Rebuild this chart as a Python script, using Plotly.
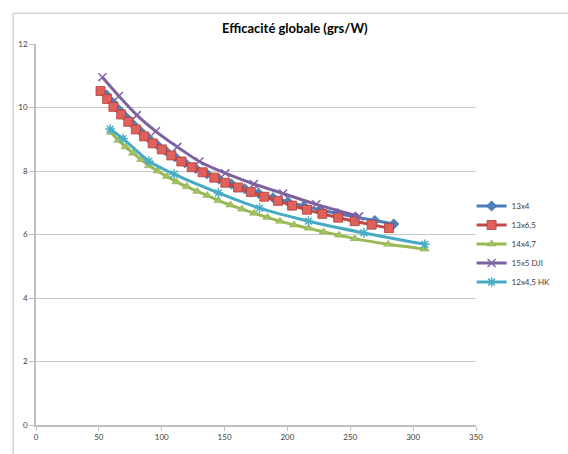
import plotly.graph_objects as go

# Puissance (W) et efficacité (grs/W) par hélice
x_13x4 = [56.0, 61.0, 66.0, 71.5, 77.0, 83.0, 89.5, 96.0, 103.0, 110.5, 118.5, 127.0, 136.0,
          145.5, 155.5, 166.0, 177.0, 188.5, 200.5, 213.0, 226.0, 240.0, 254.0, 269.5, 284.6]
y_13x4 = [10.40, 10.16, 9.93, 9.70, 9.48, 9.26, 9.04, 8.84, 8.64, 8.45, 8.26, 8.08, 7.91,
          7.75, 7.59, 7.44, 7.30, 7.16, 7.03, 6.90, 6.78, 6.66, 6.55, 6.44, 6.33]

x_13x65 = [51.3, 56.6, 61.6, 67.7, 73.4, 79.4, 86.0, 92.8, 100.1, 107.6, 115.6, 123.9, 132.5,
           141.8, 150.6, 160.7, 170.9, 181.6, 192.5, 203.7, 215.5, 227.8, 240.4, 253.5, 267.0, 280.8]
y_13x65 = [10.52, 10.27, 10.02, 9.78, 9.55, 9.31, 9.09, 8.87, 8.68, 8.49, 8.30, 8.12, 7.96,
           7.79, 7.63, 7.48, 7.34, 7.19, 7.06, 6.91, 6.78, 6.65, 6.53, 6.42, 6.31, 6.20]

x_14x47 = [59.6, 65.4, 71.3, 77.2, 83.5, 89.8, 96.6, 104.1, 111.6, 119.9, 128.2, 136.3, 145.1,
           154.6, 163.9, 173.5, 184.1, 194.1, 205.2, 217.0, 228.8, 241.2, 253.5, 280.1, 309.3]
y_14x47 = [9.22, 8.97, 8.76, 8.56, 8.36, 8.17, 8.00, 7.83, 7.66, 7.51, 7.36, 7.23, 7.07,
           6.93, 6.80, 6.67, 6.54, 6.42, 6.30, 6.20, 6.08, 5.98, 5.87, 5.69, 5.54]

x_15x5 = [52.8, 65.9, 80.2, 95.3, 112.4, 130.0, 150.6, 173.3, 196.6, 223.0, 257.0]
y_15x5 = [10.95, 10.36, 9.76, 9.25, 8.76, 8.30, 7.93, 7.59, 7.29, 6.95, 6.57]

x_12x45 = [59.0, 69.2, 89.8, 109.9, 145.1, 177.8, 216.7, 260.8, 309.3]
y_12x45 = [9.32, 9.02, 8.31, 7.90, 7.31, 6.83, 6.42, 6.05, 5.69]

noms = ["13x4", "13x6,5", "14x4,7", "15x5 DJI", "12x4,5 HK"]

fig = go.Figure()

series = [
    (noms[0], x_13x4, y_13x4, "#4A7EBB", dict(symbol="diamond", size=8, color="#4F81BD",
                                                  line=dict(color="#3F6EA8", width=0.5))),
    (noms[1], x_13x65, y_13x65, "#BE4B48", dict(symbol="square", size=9, color="#E0605C",
                                                    line=dict(color="#B03F3C", width=0.8))),
    (noms[2], x_14x47, y_14x47, "#98B954", dict(symbol="triangle-up", size=8, color="#A2C261",
                                                    line=dict(color="#8BAA4B", width=0.5))),
    (noms[3], x_15x5, y_15x5, "#7D60A0", dict(symbol="x-thin-open", size=8, color="#8064A2",
                                                  line=dict(color="#8064A2", width=1.5))),
    (noms[4], x_12x45, y_12x45, "#46AAC5", dict(symbol="asterisk-open", size=8, color="#4BACC6",
                                                    line=dict(color="#4BACC6", width=1.5))),
]

for nom, xs, ys, couleur, marqueur in series:
    fig.add_trace(go.Scatter(
        x=xs, y=ys, name=nom, mode="lines+markers",
        line=dict(color=couleur, width=3, shape="spline", smoothing=0.6),
        marker=marqueur,
    ))

# Cadre extérieur du graphique
fig.add_shape(type="rect", xref="paper", yref="paper",
              x0=-0.052, x1=1.3, y0=-0.2, y1=1.081,
              line=dict(color="#BFBFBF", width=1), layer="below")

fig.update_layout(
    width=568, height=454,
    margin=dict(l=36, r=68, t=44, b=17),
    paper_bgcolor="white", plot_bgcolor="white",
    font=dict(family="Lato, Open Sans, sans-serif", size=8, color="#404040"),
    title=dict(text="<b>Efficacité globale (grs/W)</b>", x=0.519, xanchor="center",
               y=0.938, yanchor="middle",
               font=dict(family="Lato, Open Sans, sans-serif", size=13, color="#000000")),
    xaxis=dict(range=[0, 350], dtick=50, tick0=0, showgrid=False, zeroline=False,
               showline=True, linecolor="#BFBFBF", linewidth=1.5,
               ticks="outside", ticklen=4, tickcolor="#BFBFBF",
               tickfont=dict(size=8, color="#404040")),
    yaxis=dict(range=[0, 12], dtick=2, tick0=0, showgrid=True, gridcolor="#C8C8C8", gridwidth=1,
               zeroline=False, showline=True, linecolor="#BFBFBF", linewidth=1.5,
               ticks="outside", ticklen=5, tickcolor="#BFBFBF",
               tickfont=dict(size=8, color="#404040")),
    legend=dict(x=0.99, xanchor="left", y=0.475, yanchor="middle",
                font=dict(size=8, color="#404040"), bgcolor="rgba(0,0,0,0)",
                itemwidth=30),
    showlegend=True,
)

fig.write_html("out.html")
